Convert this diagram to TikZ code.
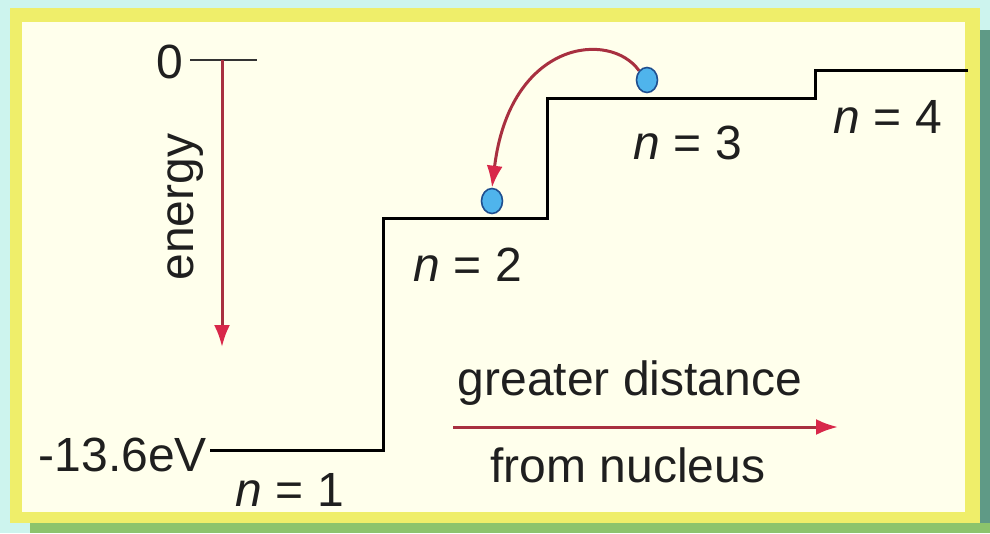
\documentclass[tikz,border=0pt]{standalone}
\usepackage{fontspec}
\setmainfont{Liberation Sans}
\usetikzlibrary{arrows.meta,shapes.geometric}
\definecolor{bgcyan}{HTML}{CDF4EE}
\definecolor{frameyellow}{HTML}{EFEE6A}
\definecolor{cream}{HTML}{FFFFEC}
\definecolor{shadowteal}{HTML}{5F9A86}
\definecolor{shadowgreen}{HTML}{8CC46C}
\definecolor{arrowred}{HTML}{D8284A}
\definecolor{linered}{HTML}{A83040}
\definecolor{elecblue}{HTML}{4FB4EC}
\definecolor{elecedge}{HTML}{1F4F8F}
\tikzset{
  lbl/.style={font=\fontsize{48}{52}\selectfont, text=black!88, inner sep=0pt},
  level/.style={line width=3pt, black},
  redarrow/.style={line width=3pt, linered, -{Latex[length=22pt,width=16pt,color=arrowred]}},
  electron/.style={ellipse, minimum width=21pt, minimum height=25pt, inner sep=0pt, fill=elecblue, draw=elecedge, line width=1.6pt},
}
\begin{document}
\begin{tikzpicture}[x=1pt,y=-1pt]
\useasboundingbox (0,0) rectangle (990,533);
% background frame
\fill[bgcyan] (0,0) rectangle (990,533);
\fill[shadowteal] (980,30) rectangle (990,533);
\fill[shadowgreen] (30,523) rectangle (990,533);
\fill[frameyellow] (10,8) rectangle (980,523);
\fill[cream] (22,22) rectangle (965,512);

% energy axis
\node[lbl] (zero) at (170,62) {0};
\coordinate (tickL) at (190,60);
\coordinate (tickR) at (257,60);
\draw[line width=2.5pt, black!80] (tickL) -- (tickR);
\coordinate (eTop) at (222,60);
\coordinate (eBot) at (222,347);
\draw[redarrow] (eTop) -- (eBot);
\node[lbl, rotate=90] (energy) at (186,207) {energy};

% staircase
\coordinate (s0) at (210,450);
\coordinate (s1) at (383,450);
\coordinate (s2) at (383,218);
\coordinate (s3) at (547,218);
\coordinate (s4) at (547,98);
\coordinate (s5) at (815,98);
\coordinate (s6) at (815,70);
\coordinate (s7) at (968,70);
\draw[level] (s0) -- (s1) -- (s2) -- (s3) -- (s4) -- (s5) -- (s6) -- (s7);

\node[lbl, anchor=east] (ground) at (207,455) {-13.6eV};

% level labels
\node[lbl] (n1) at (290,490) {\textit{n} = 1};
\node[lbl] (n2) at (468,265) {\textit{n} = 2};
\node[lbl] (n3) at (688,143) {\textit{n} = 3};
\node[lbl] (n4) at (888,117) {\textit{n} = 4};

% electrons
\node[electron] (e3) at (647,80) {};
\node[electron] (e2) at (492,201) {};
\draw[redarrow] (e3.north west) .. controls (610,30) and (510,40) .. (e2.north);

% distance arrow
\coordinate (dL) at (453,427);
\coordinate (dR) at (838,427);
\draw[redarrow] (dL) -- (dR);
\node[lbl] (greater) at (630,383) {greater distance};
\node[lbl] (nucleus) at (628,465) {from nucleus};
\end{tikzpicture}
\end{document}
